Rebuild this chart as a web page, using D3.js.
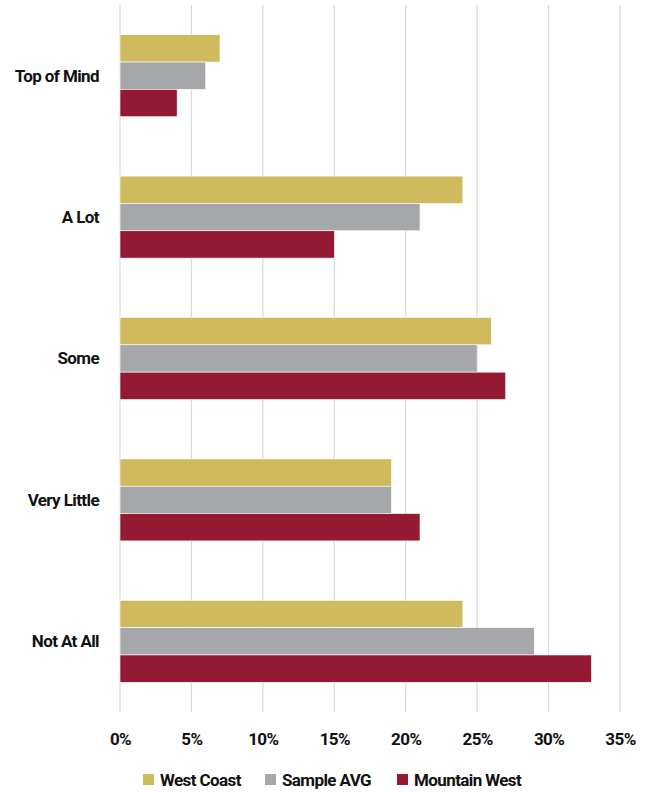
<!DOCTYPE html>
<html>
<head>
<meta charset="utf-8">
<script src="https://cdn.jsdelivr.net/npm/d3@7"></script>
<style>
  body { margin: 0; background: #fff; }
  text { font-family: "Roboto", "Liberation Sans", sans-serif; font-weight: bold; fill: #111; letter-spacing: -0.6px; }
</style>
</head>
<body>
<div id="vis"><svg></svg></div>
<script>
var categories = ["Top of Mind", "A Lot", "Some", "Very Little", "Not At All"];
var seriesNames = ["West Coast", "Sample AVG", "Mountain West"];
var westCoast = [7, 24, 26, 19, 24];
var sampleAvg = [6, 21, 25, 19, 29];
var mountainWest = [4, 15, 27, 21, 33];
var xTicks = [0, 5, 10, 15, 20, 25, 30, 35];
var colours = ["#CFBA5E", "#A5A7AA", "#941A33"];

var width = 648, height = 792;
var margin = {top: 5, right: 28, bottom: 80, left: 120};

var svg = d3.select("#vis").select("svg")
  .attr("width", width)
  .attr("height", height);

var x = d3.scaleLinear()
  .domain([0, 35])
  .range([margin.left, width - margin.right]);

var y = d3.scaleBand()
  .domain(categories)
  .range([margin.top, height - margin.bottom])
  .paddingInner(0.42)
  .paddingOuter(0.21);

var y1 = d3.scaleBand()
  .domain(seriesNames)
  .range([0, y.bandwidth()]);

// gridlines
svg.append("g")
  .selectAll("line")
  .data(xTicks)
  .enter()
  .append("line")
  .attr("x1", d => x(d))
  .attr("x2", d => x(d))
  .attr("y1", margin.top)
  .attr("y2", height - margin.bottom)
  .attr("stroke", "#d9d9d9")
  .attr("stroke-width", 1.2);

var rows = categories.map((c, i) => ({
  cat: c,
  vals: [westCoast[i], sampleAvg[i], mountainWest[i]]
}));

var groups = svg.selectAll("g.cat")
  .data(rows)
  .enter()
  .append("g")
  .attr("class", "cat")
  .attr("transform", d => `translate(0, ${y(d.cat)})`);

groups.selectAll("rect")
  .data(d => d.vals.map((v, j) => ({name: seriesNames[j], value: v, j: j})))
  .enter()
  .append("rect")
  .attr("x", x(0))
  .attr("y", d => y1(d.name))
  .attr("width", d => x(d.value) - x(0))
  .attr("height", y1.bandwidth())
  .style("fill", d => colours[d.j])
  .style("stroke", "#fff")
  .style("stroke-width", 0.6);

groups.append("text")
  .attr("x", x(0) - 21)
  .attr("y", y.bandwidth() / 2)
  .attr("dy", "0.35em")
  .style("text-anchor", "end")
  .style("font-size", "17px")
  .text(d => d.cat);

// x axis labels
var xAxis = d3.axisBottom(x)
  .tickValues(xTicks)
  .tickSize(0)
  .tickFormat(d => d + "%");

svg.append("g")
  .attr("class", "xAxis")
  .attr("transform", `translate(0, ${height - margin.bottom + 18})`)
  .call(xAxis)
  .call(g => g.select(".domain").remove())
  .call(g => g.attr("font-family", null).attr("font-size", null))
  .selectAll("text")
  .style("font-size", "17px")
  .attr("fill", "#111");

// legend
var legendX = [143, 265, 397];
var legend = svg.append("g")
  .selectAll("g")
  .data(seriesNames)
  .enter()
  .append("g")
  .attr("transform", (d, i) => `translate(${legendX[i]}, 774)`);

legend.append("rect")
  .attr("width", 11)
  .attr("height", 11)
  .style("fill", (d, i) => colours[i]);

legend.append("text")
  .attr("x", 17)
  .attr("y", 5.5)
  .attr("dy", "0.36em")
  .style("font-size", "17px")
  .text(d => d);
</script>
</body>
</html>
